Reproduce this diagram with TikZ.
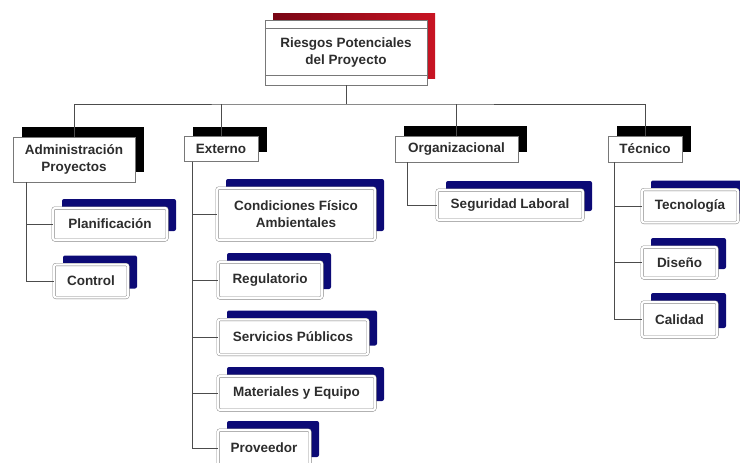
\documentclass[tikz,border=0pt]{standalone}
\usepackage{fontspec}
\setmainfont{Liberation Sans}
\usetikzlibrary{shadows}

\definecolor{rootdark}{RGB}{120,5,20}
\definecolor{rootred}{RGB}{200,20,35}
\definecolor{riskblue}{RGB}{12,10,118}
\definecolor{boxline}{RGB}{120,120,120}
\definecolor{textgray}{RGB}{45,45,45}

\tikzset{
  boxtext/.style={inner sep=0pt, align=center, text=textgray, font=\fontsize{13.5}{17}\selectfont\bfseries},
  rootbox/.style={boxtext, draw=boxline, fill=white, drop shadow={shadow xshift=8pt, shadow yshift=7pt, left color=rootdark, right color=rootred, opacity=1}},
  areabox/.style={boxtext, draw=boxline, fill=white, drop shadow={shadow xshift=9pt, shadow yshift=10pt, fill=black, opacity=1}},
  riskbox/.style={boxtext, draw=boxline, double=white, double distance=2.2pt, rounded corners=2pt, fill=white, drop shadow={shadow xshift=9pt, shadow yshift=9pt, fill=riskblue, opacity=1}},
  link/.style={draw=black!70, line width=0.9pt}
}

\begin{document}
\begin{tikzpicture}[x=1pt,y=1pt,yscale=-1,xscale=1]
\useasboundingbox (0,0) rectangle (740,463);

% Text Node
\node[rootbox, minimum width=162, minimum height=65] (root) at (346,52.5) {Riesgos Potenciales\\del Proyecto};
\draw[boxline] ([yshift=8pt]root.north west) -- ([yshift=8pt]root.north east);
\draw[boxline] ([yshift=-10pt]root.south west) -- ([yshift=-10pt]root.south east);
% Text Node
\node[areabox, minimum width=122, minimum height=45] (adm) at (74,159.5) {Administración\\Proyectos};
% Text Node
\node[areabox, minimum width=74, minimum height=25] (ext) at (221,149) {Externo};
% Text Node
\node[areabox, minimum width=123, minimum height=26] (org) at (456.5,149) {Organizacional};
% Text Node
\node[areabox, minimum width=74, minimum height=26] (tec) at (645,149) {Técnico};
% Text Node
\node[riskbox, minimum width=114, minimum height=32] (plan) at (110,224) {Planificación};
% Text Node
\node[riskbox, minimum width=74, minimum height=33] (ctrl) at (91,281) {Control};
% Text Node
\node[riskbox, minimum width=158, minimum height=52] (cond) at (296,214) {Condiciones Físico\\Ambientales};
% Text Node
\node[riskbox, minimum width=104, minimum height=36] (reg) at (270,280) {Regulatorio};
% Text Node
\node[riskbox, minimum width=150, minimum height=35] (serv) at (293,337) {Servicios Públicos};
% Text Node
\node[riskbox, minimum width=157, minimum height=34] (mat) at (296.5,393) {Materiales y Equipo};
% Text Node
\node[riskbox, minimum width=92, minimum height=36] (prov) at (264,448) {Proveedor};
% Text Node
\node[riskbox, minimum width=146, minimum height=30] (seg) at (510,205) {Seguridad Laboral};
% Text Node
\node[riskbox, minimum width=96, minimum height=33] (tecn) at (690,206) {Tecnología};
% Text Node
\node[riskbox, minimum width=75, minimum height=31] (dis) at (679.5,262.5) {Diseño};
% Text Node
\node[riskbox, minimum width=75, minimum height=35] (cal) at (679.5,319.5) {Calidad};

\coordinate (bus) at (346,104);

% Connection
\draw[link] (root.south) -- (bus);


% Connection
\draw[link] (adm.north) |- (bus) -| (tec.north);


% Connection
\draw[link] (ext.north) -- (ext.north |- bus);


% Connection
\draw[link] (org.north) -- (org.north |- bus);


% Connection
\draw[link] (adm.south west) ++(14,0) |- (plan.west);


% Connection
\draw[link] (adm.south west) ++(14,0) |- (ctrl.west);


% Connection
\draw[link] (ext.south west) ++(9,0) |- (cond.west);


% Connection
\draw[link] (ext.south west) ++(9,0) |- (reg.west);


% Connection
\draw[link] (ext.south west) ++(9,0) |- (serv.west);


% Connection
\draw[link] (ext.south west) ++(9,0) |- (mat.west);


% Connection
\draw[link] (ext.south west) ++(9,0) |- (prov.west);


% Connection
\draw[link] (org.south west) ++(13,0) |- (seg.west);


% Connection
\draw[link] (tec.south west) ++(7,0) |- (tecn.west);


% Connection
\draw[link] (tec.south west) ++(7,0) |- (dis.west);


% Connection
\draw[link] (tec.south west) ++(7,0) |- (cal.west);



\end{tikzpicture}
\end{document}
